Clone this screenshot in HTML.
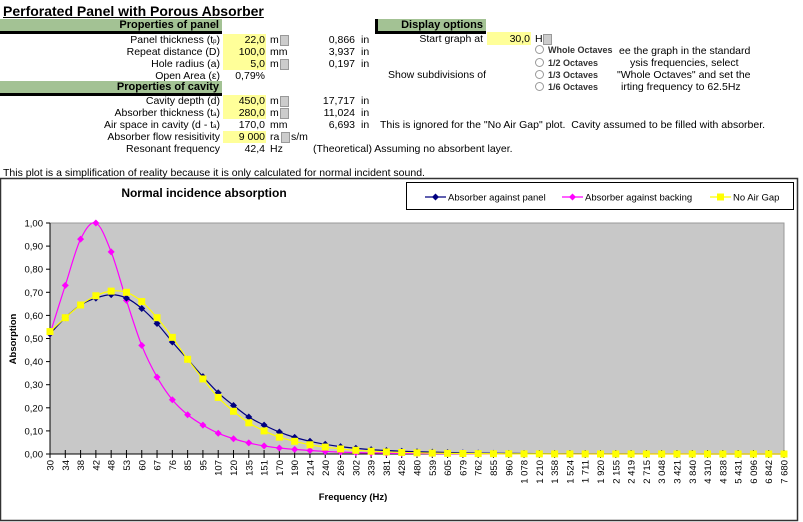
<!DOCTYPE html>
<html><head><meta charset="utf-8"><style>
body{margin:0;width:803px;height:522px;background:#fff;position:relative;overflow:hidden;font-family:"Liberation Sans",Arial,sans-serif;font-size:10.5px;color:#000}
.a{position:absolute;white-space:nowrap;line-height:12px;height:12px}
.r{text-align:right}
.hdr{position:absolute;background:#a3c294;font-weight:bold;font-size:11px;text-align:right;line-height:13px;border-bottom:3px solid #000;box-sizing:border-box}
.y{position:absolute;background:#ffff99}
.sp{position:absolute;width:7px;height:9px;background:#ccc;border:1px solid #999}
sub{font-size:6px;vertical-align:0;line-height:0}
.rad{position:absolute;font-size:9px;font-weight:bold;color:#333;white-space:nowrap}
.rad:before{content:"";display:inline-block;width:7px;height:7px;border:1px solid #999;border-radius:50%;margin-right:4px;vertical-align:-1px}
</style></head><body>
<div class="a" style="left:3px;top:3px;font-size:14px;font-weight:bold;text-decoration:underline;line-height:17px;height:17px">Perforated Panel with Porous Absorber</div>
<div class="hdr" style="left:0;top:19px;width:222px;height:15px;padding-right:3px">Properties of panel</div>
<div class="hdr" style="left:0;top:81px;width:222px;height:15px;padding-right:3px">Properties of cavity</div>
<div class="hdr" style="left:375px;top:19px;width:111px;height:15px;padding-right:3px;border-left:3px solid #000">Display options</div>
<div class="y" style="left:223px;top:34px;width:43px;height:36px"></div>
<div class="y" style="left:223px;top:95px;width:43px;height:24px"></div>
<div class="y" style="left:223px;top:131px;width:43px;height:12px"></div>
<div class="y" style="left:487px;top:32px;width:44px;height:13px"></div>

<div class="a r" style="right:583px;top:34px">Panel thickness (t<sub>p</sub>)</div>
<div class="a r" style="right:583px;top:46px">Repeat distance (D)</div>
<div class="a r" style="right:583px;top:58px">Hole radius (a)</div>
<div class="a r" style="right:583px;top:70px">Open Area (ε)</div>
<div class="a r" style="right:583px;top:95px">Cavity depth (d)</div>
<div class="a r" style="right:583px;top:107px">Absorber thickness (t<sub>a</sub>)</div>
<div class="a r" style="right:583px;top:119px">Air space in cavity (d - t<sub>a</sub>)</div>
<div class="a r" style="right:583px;top:131px">Absorber flow resisitivity</div>
<div class="a r" style="right:583px;top:143px">Resonant frequency</div>

<div class="a r" style="right:538px;top:34px">22,0</div>
<div class="a r" style="right:538px;top:46px">100,0</div>
<div class="a r" style="right:538px;top:58px">5,0</div>
<div class="a r" style="right:538px;top:70px">0,79%</div>
<div class="a r" style="right:538px;top:95px">450,0</div>
<div class="a r" style="right:538px;top:107px">280,0</div>
<div class="a r" style="right:538px;top:119px">170,0</div>
<div class="a r" style="right:538px;top:131px">9 000</div>
<div class="a r" style="right:538px;top:143px">42,4</div>

<div class="a" style="left:270px;top:34px">m</div><div class="sp" style="left:280px;top:35px"></div>
<div class="a" style="left:270px;top:46px">mm</div>
<div class="a" style="left:270px;top:58px">m</div><div class="sp" style="left:280px;top:59px"></div>
<div class="a" style="left:270px;top:95px">m</div><div class="sp" style="left:280px;top:96px"></div>
<div class="a" style="left:270px;top:107px">m</div><div class="sp" style="left:280px;top:108px"></div>
<div class="a" style="left:270px;top:119px">mm</div>
<div class="a" style="left:270px;top:131px">ra&nbsp;&nbsp;&nbsp;&nbsp;s/m</div><div class="sp" style="left:281px;top:132px"></div>
<div class="a" style="left:270px;top:143px">Hz</div>

<div class="a r" style="right:448px;top:34px">0,866</div>
<div class="a r" style="right:448px;top:46px">3,937</div>
<div class="a r" style="right:448px;top:58px">0,197</div>
<div class="a r" style="right:448px;top:95px">17,717</div>
<div class="a r" style="right:448px;top:107px">11,024</div>
<div class="a r" style="right:448px;top:119px">6,693</div>
<div class="a" style="left:361px;top:34px">in</div>
<div class="a" style="left:361px;top:46px">in</div>
<div class="a" style="left:361px;top:58px">in</div>
<div class="a" style="left:361px;top:95px">in</div>
<div class="a" style="left:361px;top:107px">in</div>
<div class="a" style="left:361px;top:119px">in</div>
<div class="a" style="left:380px;top:119px">This is ignored for the "No Air Gap" plot.&nbsp; Cavity assumed to be filled with absorber.</div>
<div class="a" style="left:313px;top:143px">(Theoretical) Assuming no absorbent layer.</div>

<div class="a r" style="right:320px;top:33px">Start graph at</div>
<div class="a r" style="right:273px;top:33px">30,0</div>
<div class="a" style="left:535px;top:33px">H</div><div class="sp" style="left:543px;top:34px"></div>
<div class="a" style="left:388px;top:69px">Show subdivisions of</div>
<div class="a" style="left:619px;top:45px">ee the graph in the standard</div>
<div class="a" style="left:630px;top:57px">ysis frequencies, select</div>
<div class="a" style="left:617px;top:69px">"Whole Octaves" and set the</div>
<div class="a" style="left:621px;top:81px">irting frequency to 62.5Hz</div>
<div class="rad" style="left:535px;top:45px">Whole Octaves</div>
<div class="rad" style="left:535px;top:58px">1/2 Octaves</div>
<div class="rad" style="left:535px;top:70px">1/3 Octaves</div>
<div class="rad" style="left:535px;top:82px">1/6 Octaves</div>

<div class="a" style="left:3px;top:167px">This plot is a simplification of reality because it is only calculated for normal incident sound.</div>

<svg style="position:absolute;left:0;top:0" width="803" height="522" id="s"></svg>
<script>
var s=document.getElementById('s'),h='';
h+='<rect x="0.5" y="178.5" width="797" height="342" fill="#fff" stroke="#333" stroke-width="1.5"/>';
var L=50,R=784,T=223,B=454;
h+='<rect x="'+L+'" y="'+T+'" width="'+(R-L)+'" height="'+(B-T)+'" fill="#c8c8c8" stroke="#999" stroke-width="1"/>';
h+='<text x="204" y="197" font-size="12" font-weight="bold" text-anchor="middle" font-family="Liberation Sans,sans-serif">Normal incidence absorption</text>';
h+='<line x1="'+L+'" y1="'+T+'" x2="'+L+'" y2="'+B+'" stroke="#000"/><line x1="'+L+'" y1="'+B+'" x2="'+R+'" y2="'+B+'" stroke="#000"/>';
for(var i=0;i<=10;i++){var y=B-i*(B-T)/10;h+='<line x1="'+(L-4)+'" y1="'+y+'" x2="'+L+'" y2="'+y+'" stroke="#000"/>';
h+='<text x="'+(L-7)+'" y="'+(y+3.5)+'" font-size="9.5" text-anchor="end" font-family="Liberation Sans,sans-serif">'+(i/10).toFixed(2).replace('.',',')+'</text>';}
var lab="30,34,38,42,48,53,60,67,76,85,95,107,120,135,151,170,190,214,240,269,302,339,381,428,480,539,605,679,762,855,960,1 078,1 210,1 358,1 524,1 711,1 920,2 155,2 419,2 715,3 048,3 421,3 840,4 310,4 838,5 431,6 096,6 842,7 680".split(',');
var n=lab.length,dx=(R-L)/(n-1);
for(var i=0;i<n;i++){var x=L+i*dx;h+='<line x1="'+x+'" y1="'+(B-4)+'" x2="'+x+'" y2="'+(B+4)+'" stroke="#000"/>';
h+='<text transform="translate('+(x+3.5)+','+(B+6)+') rotate(-90)" font-size="9.5" text-anchor="end" font-family="Liberation Sans,sans-serif">'+lab[i]+'</text>';}
h+='<text transform="translate(16,339) rotate(-90)" font-size="9.5" font-weight="bold" text-anchor="middle" font-family="Liberation Sans,sans-serif">Absorption</text>';
h+='<text x="353" y="500" font-size="9.5" font-weight="bold" text-anchor="middle" font-family="Liberation Sans,sans-serif">Frequency (Hz)</text>';
function ext(a,f){while(a.length<n){a.push(a[a.length-1]*f)}return a}
var blue=ext([0.52,0.59,0.645,0.675,0.69,0.675,0.63,0.565,0.485,0.41,0.335,0.265,0.21,0.16,0.125,0.095,0.072,0.055,0.042,0.032,0.025,0.019,0.015,0.012,0.01],0.8);
var mag=ext([0.52,0.73,0.93,1.0,0.875,0.665,0.47,0.333,0.235,0.17,0.125,0.09,0.066,0.048,0.035,0.026,0.02,0.015,0.011,0.008],0.75);
var yel=ext([0.53,0.59,0.645,0.685,0.705,0.70,0.66,0.59,0.505,0.41,0.325,0.245,0.185,0.135,0.10,0.073,0.055,0.04,0.03,0.022,0.016,0.012,0.009],0.75);
function P(a){return a.map(function(v,i){return[L+i*dx,B-v*(B-T)]})}
function path(p){var d='M'+p[0][0]+','+p[0][1];for(var i=0;i<p.length-1;i++){var p0=p[i-1]||p[i],p1=p[i],p2=p[i+1],p3=p[i+2]||p2;
d+=' C'+(p1[0]+(p2[0]-p0[0])/6)+','+(p1[1]+(p2[1]-p0[1])/6)+' '+(p2[0]-(p3[0]-p1[0])/6)+','+(p2[1]-(p3[1]-p1[1])/6)+' '+p2[0]+','+p2[1];}return d}
function series(a,c,m){var p=P(a);h+='<path d="'+path(p)+'" fill="none" stroke="'+c+'" stroke-width="1.2"/>';
p.forEach(function(q){if(m=='sq')h+='<rect x="'+(q[0]-3.5)+'" y="'+(q[1]-3.5)+'" width="7" height="7" fill="'+c+'"/>';else h+='<path d="M'+q[0]+','+(q[1]-3.5)+' L'+(q[0]+3.5)+','+q[1]+' L'+q[0]+','+(q[1]+3.5)+' L'+(q[0]-3.5)+','+q[1]+'Z" fill="'+c+'"/>';});}
series(mag,'#ff00ff','d');series(blue,'#000080','d');series(yel,'#ffff00','sq');
h+='<rect x="406.5" y="182.5" width="387" height="27" fill="#fff" stroke="#000"/>';
function leg(x,c,t,m){h+='<line x1="'+x+'" y1="197" x2="'+(x+21)+'" y2="197" stroke="'+c+'" stroke-width="1.3"/>';
if(m=='sq')h+='<rect x="'+(x+7)+'" y="193.5" width="7" height="7" fill="'+c+'"/>';else h+='<path d="M'+(x+10.5)+',193.5 L'+(x+14)+',197 L'+(x+10.5)+',200.5 L'+(x+7)+',197Z" fill="'+c+'"/>';
h+='<text x="'+(x+23)+'" y="200.5" font-size="9.5" font-family="Liberation Sans,sans-serif">'+t+'</text>';}
leg(425,'#000080','Absorber against panel');leg(562,'#ff00ff','Absorber against backing');leg(710,'#ffff00','No Air Gap','sq');
s.innerHTML=h;
</script>
</body></html>
